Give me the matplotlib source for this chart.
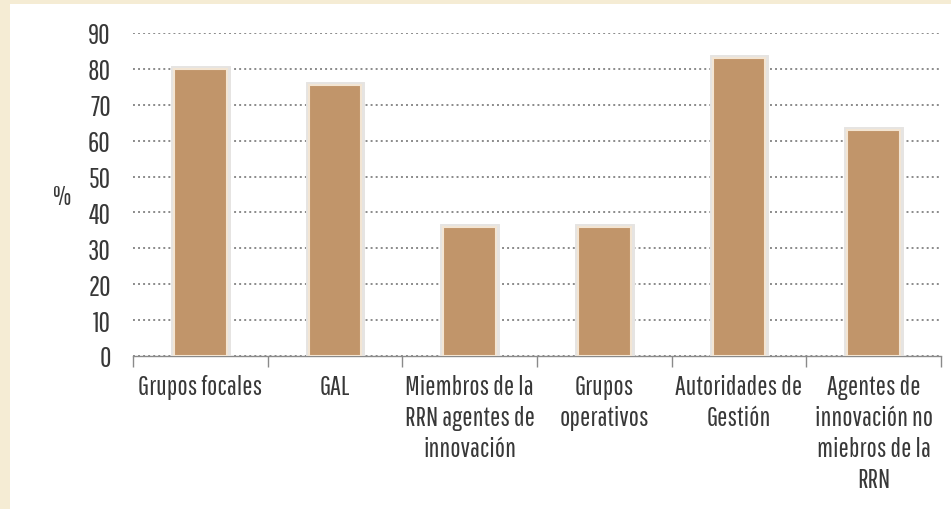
import matplotlib
matplotlib.use("Agg")
import matplotlib.pyplot as plt
from matplotlib.patches import Rectangle
import matplotlib.patheffects as pe

categories = ["Grupos focales", "GAL", "Miembros de la\nRRN agentes de\ninnovación",
              "Grupos\noperativos", "Autoridades de\nGestión",
              "Agentes de\ninnovación no\nmiebros de la\nRRN"]
values = [80, 75.5, 36, 36, 83, 63]
yticks = [0, 10, 20, 30, 40, 50, 60, 70, 80, 90]

plt.rcParams['font.family'] = ['Pathway Gothic One', 'Saira Extra Condensed', 'Oswald',
                               'Roboto Condensed', 'DejaVu Sans']

fig = plt.figure(figsize=(9.51, 5.10), dpi=100)
fig.patch.set_facecolor('#F5ECD4')
fig.patches.append(Rectangle((10/951, 0), 1, 1 - 5/510, transform=fig.transFigure,
                             facecolor='white', edgecolor='none', zorder=-10))

ax = fig.add_axes([133/951, 1 - 357/510, (941 - 133)/951, (357 - 34)/510])
ax.set_zorder(1)
ax.set_facecolor('none')

x = list(range(len(categories)))
bars = ax.bar(x, values, width=0.39, color='#C1956A', edgecolor='#F3E5D3',
              linewidth=1.5, zorder=3)
for b in bars:
    b.set_path_effects([pe.Stroke(linewidth=5, foreground='#E6E4E2'), pe.Normal()])

ax.set_ylim(0, 90)
ax.set_xlim(-0.5, len(categories) - 0.5)
ax.set_yticks(yticks)
ax.set_yticklabels([str(v) for v in yticks], fontsize=20, color='#383838')
ax.yaxis.grid(True, linestyle=(0, (1, 1.6)), color='#8a8a8a', linewidth=1.4, zorder=1)
ax.set_axisbelow(True)
ax.tick_params(axis='y', length=0, pad=16)

ax.set_xticks(x)
ax.set_xticklabels(categories, fontsize=19.5, color='#383838', linespacing=1.3)
ax.set_xticks([i - 0.5 for i in range(len(categories) + 1)], minor=True)
ax.tick_params(axis='x', which='major', length=0, pad=13)
ax.tick_params(axis='x', which='minor', length=8, color='#8a8a8a', width=1)

for s in ['left', 'right', 'top']:
    ax.spines[s].set_visible(False)
ax.spines['bottom'].set_color('#8a8a8a')
ax.spines['bottom'].set_linewidth(1)

fig.text(62/951, 1 - 198/510, '%', fontsize=19, color='#383838', ha='center', va='center')

fig.savefig('out.png', dpi=100, facecolor=fig.get_facecolor())
